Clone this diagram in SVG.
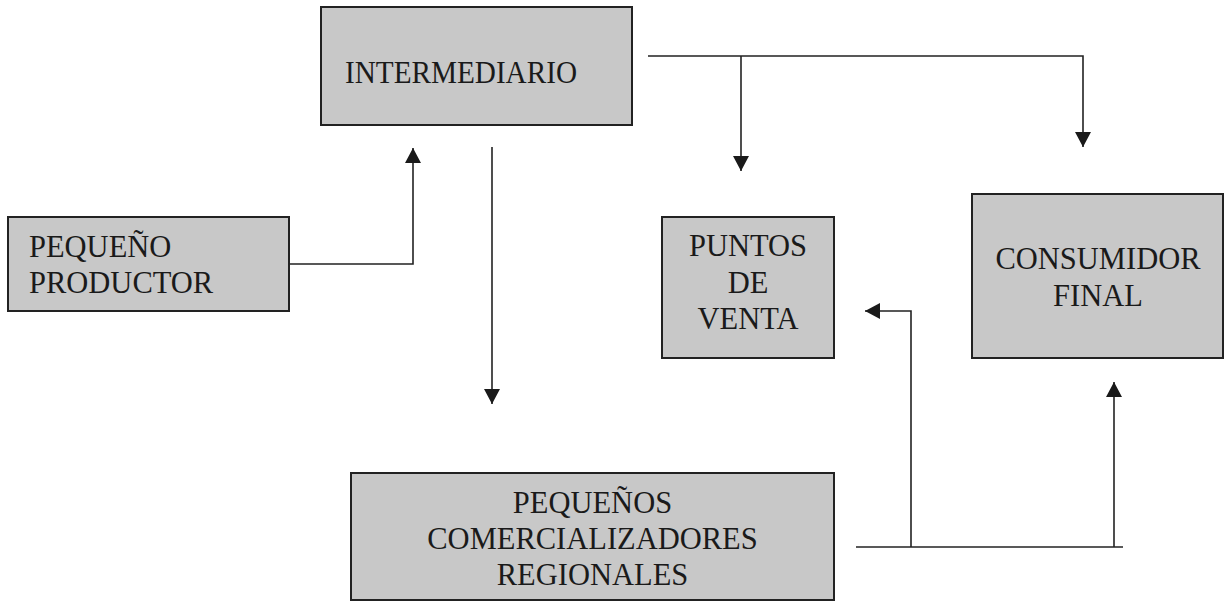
<svg xmlns="http://www.w3.org/2000/svg" width="1224" height="614" viewBox="0 0 1224 614">
<style>
.box{fill:#c8c8c8;stroke:#222;stroke-width:2}
.t{font-family:"Liberation Serif","Times New Roman",serif;font-size:30.5px;fill:#1a1a1a}
.c{text-anchor:middle}
.ln{fill:none;stroke:#222;stroke-width:1.6}
</style>
<defs>
<marker id="ah" markerUnits="userSpaceOnUse" markerWidth="16" markerHeight="16" refX="15" refY="8" orient="auto">
<path d="M0,0 L15,8 L0,16 z" fill="#1a1a1a"/>
</marker>
</defs>
<rect width="1224" height="614" fill="#fff"/>
<g id="intermediario">
<rect class="box" x="321" y="7" width="311" height="118"/>
<text class="t" x="345" y="83" textLength="232" lengthAdjust="spacingAndGlyphs">INTERMEDIARIO</text>
</g>
<g id="pequeno-productor">
<rect class="box" x="8" y="217" width="281" height="94"/>
<text class="t" x="29" y="257">PEQUEÑO</text>
<text class="t" x="29" y="293">PRODUCTOR</text>
</g>
<g id="puntos-de-venta">
<rect class="box" x="662" y="217" width="172" height="141"/>
<text class="t c" x="748" y="256">PUNTOS</text>
<text class="t c" x="748" y="293">DE</text>
<text class="t c" x="748" y="329">VENTA</text>
</g>
<g id="consumidor-final">
<rect class="box" x="972" y="194" width="251" height="164"/>
<text class="t c" x="1098" y="269">CONSUMIDOR</text>
<text class="t c" x="1098" y="306">FINAL</text>
</g>
<g id="pequenos-comercializadores">
<rect class="box" x="351" y="473" width="483" height="127"/>
<text class="t c" x="592.5" y="513">PEQUEÑOS</text>
<text class="t c" x="592.5" y="549">COMERCIALIZADORES</text>
<text class="t c" x="592.5" y="585">REGIONALES</text>
</g>
<g id="connectors">
<path class="ln" d="M289,264 H413 V148" marker-end="url(#ah)"/>
<path class="ln" d="M492,147 V404" marker-end="url(#ah)"/>
<path class="ln" d="M648,56 H1083 V147" marker-end="url(#ah)"/>
<path class="ln" d="M741,56 V171" marker-end="url(#ah)"/>
<path class="ln" d="M856,547 H1123"/>
<path class="ln" d="M1114,547 V382" marker-end="url(#ah)"/>
<path class="ln" d="M911,547 V311 H865" marker-end="url(#ah)"/>
</g>
</svg>
